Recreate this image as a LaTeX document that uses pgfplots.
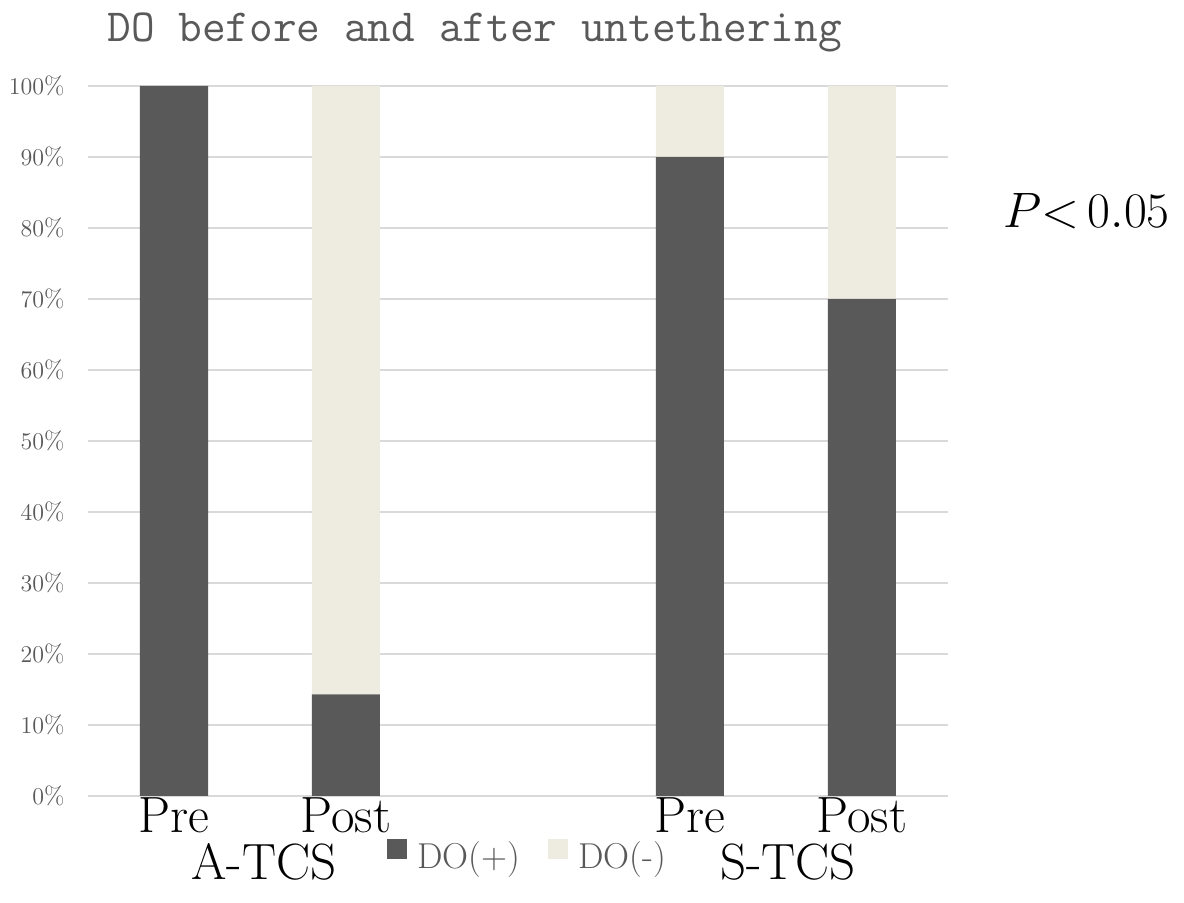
\documentclass[border=0pt]{standalone}
\usepackage{pgfplots}
\pgfplotsset{compat=1.18}
\definecolor{darkbar}{HTML}{595959}
\definecolor{lightbar}{HTML}{EEECE1}
\definecolor{gridc}{HTML}{D9D9D9}
\definecolor{txtgrey}{HTML}{595959}
\begin{document}
\begin{tikzpicture}
\path[use as bounding box] (0,0) rectangle (592pt,451.5pt);
\begin{axis}[
  at={(44pt,53.5pt)}, anchor=south west,
  scale only axis, width=430pt, height=355pt,
  ybar stacked, bar width=34pt,
  xmin=-0.5, xmax=4.5, ymin=0, ymax=100,
  xtick={0,1,3,4}, xticklabels={Pre,Post,Pre,Post},
  ytick={0,10,...,100},
  yticklabel={\pgfmathprintnumber[fixed,precision=0]{\tick}\%},
  axis line style={draw=none}, major tick length=0pt,
  ymajorgrids, grid style={color=gridc, line width=0.8pt},
  yticklabel style={anchor=east, inner sep=0pt, xshift=-11.5pt,
    font=\fontsize{12.5}{13}\selectfont, text=txtgrey},
  xticklabel style={anchor=base, inner sep=0pt, yshift=-18.5pt,
    font=\fontsize{25.5}{26}\selectfont, text=black},
  legend columns=2,
  legend style={at={(0.3477,0)}, anchor=west, yshift=-29.5pt,
    draw=none, fill=none, inner sep=0pt,
    font=\fontsize{18}{18}\selectfont, text=txtgrey,
    nodes={inner sep=0pt},
    /tikz/every odd column/.append style={column sep=5pt},
    /tikz/every even column/.append style={column sep=14pt}},
  legend image code/.code={\fill[#1] (0pt,-1pt) rectangle (10pt,9pt);},
]
\addplot[fill=darkbar, draw=none] coordinates {(0,100) (1,14.3) (3,90) (4,70)};
\addplot[fill=lightbar, draw=none] coordinates {(0,0) (1,85.7) (3,10) (4,30)};
\legend{DO(+),DO(-)}
\end{axis}
\node[anchor=base west, inner sep=0pt, font=\fontsize{23}{23}\selectfont\ttfamily, text=txtgrey] at (53.5pt,430.5pt) {DO before and after untethering};
\node[anchor=base, inner sep=0pt, font=\fontsize{25.5}{26}\selectfont] at (132pt,11.5pt) {A-TCS};
\node[anchor=base, inner sep=0pt, font=\fontsize{25.5}{26}\selectfont] at (394pt,11.5pt) {S-TCS};
\node[anchor=base west, inner sep=0pt, font=\fontsize{24}{24}\selectfont] at (501.5pt,337.5pt) {$P{<}\,0.05$};
\end{tikzpicture}
\end{document}
